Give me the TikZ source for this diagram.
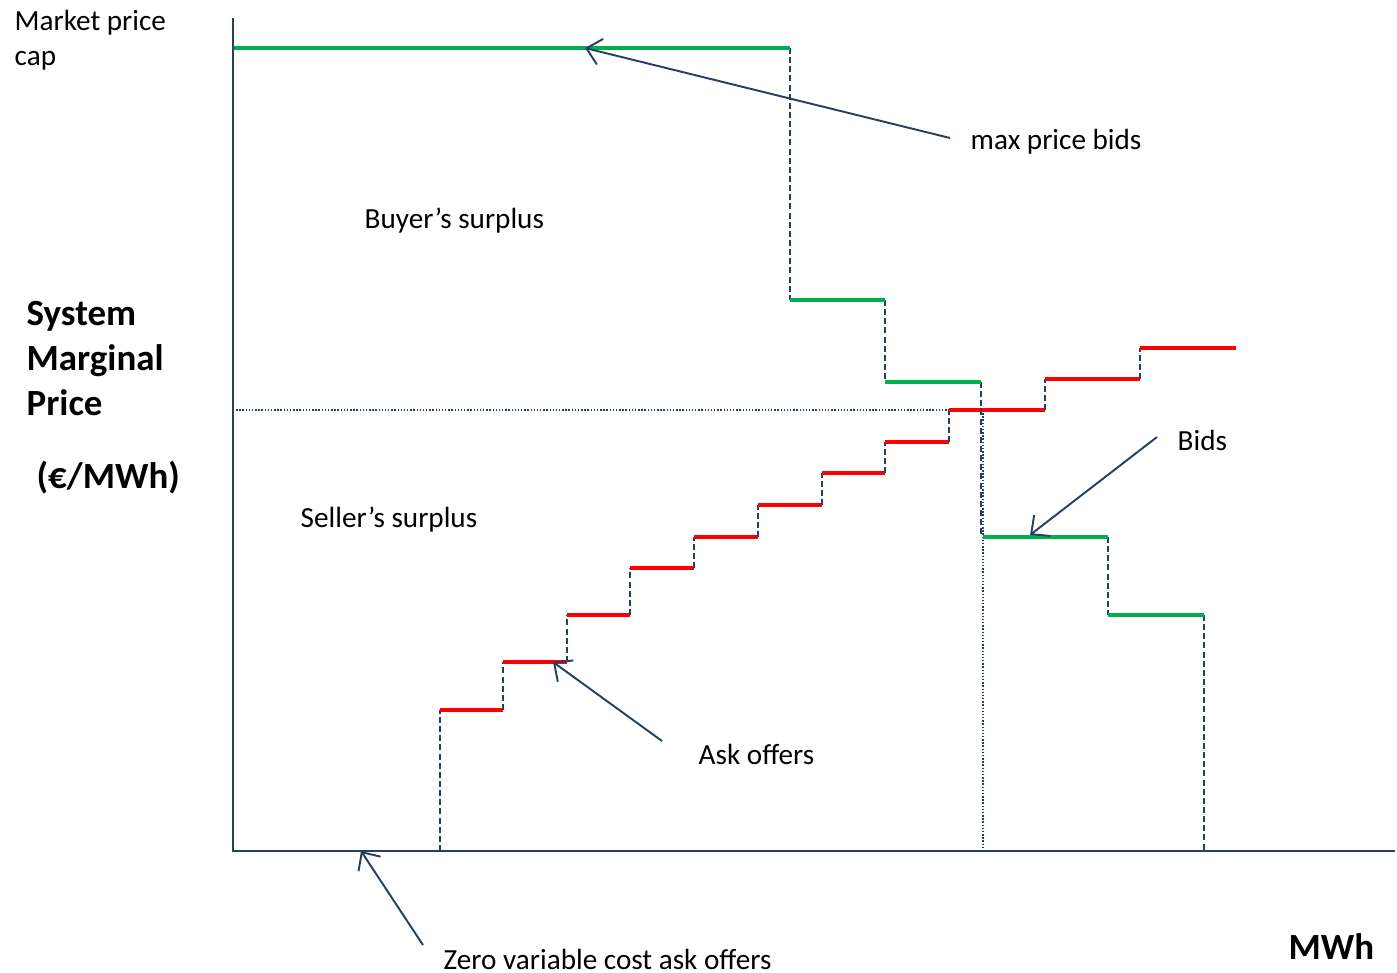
\documentclass[tikz,border=0pt]{standalone}
\usepackage{fontspec}
\setmainfont{Carlito}
\usepackage{xcolor}
\usepackage{tikz}
\usetikzlibrary{positioning,arrows.meta}
\definecolor{navy}{RGB}{38,64,97}
\definecolor{bidgreen}{RGB}{0,176,80}
\definecolor{askred}{RGB}{255,0,0}
\tikzstyle{lbl}=[inner sep=0pt, anchor=west, font=\fontsize{8.3}{9.7}\selectfont]
\tikzstyle{axislbl}=[inner sep=0pt, anchor=west, font=\fontsize{10.5}{12.8}\selectfont\bfseries]
\tikzstyle{ask}=[askred, line width=1.25pt]
\tikzstyle{bid}=[bidgreen, line width=1.25pt]
\tikzstyle{riser}=[navy, line width=0.55pt, dash pattern=on 1.7pt off 0.9pt]
\tikzstyle{guide}=[navy, line width=0.5pt, dash pattern=on 0.4pt off 0.5pt]
\tikzstyle{pointer}=[navy, line width=0.55pt, -{Straight Barb[length=4pt,width=7.5pt]}]

\begin{document}
\begin{tikzpicture}[x=0.01cm, y=-0.01cm]
				\useasboundingbox (0,0) rectangle (1397,973);
				
				% dotted price lines
				\draw[guide] (233,410) -- (949,410);
				\draw[guide] (983,410) -- (983,851);
				
				% ask offers
				\foreach \xa/\xb/\ya/\yb in {440/503/851/710, 503/567/710/662, 567/630/662/615, 630/694/615/568, 694/758/568/537, 758/822/537/505, 822/885/505/473, 885/949/473/442, 949/1045/442/410, 1045/1140/410/379, 1140/1236/379/348}
				{
					\draw[riser] (\xa,\ya) -- (\xa,\yb);
					\draw[ask] (\xa,\yb) -- (\xb,\yb);
				}
				
				% bids
				\draw[riser] (790,48) -- (790,300);
				\draw[riser] (885,300) -- (885,382);
				\draw[riser] (981,382) -- (981,537);
				\draw[riser] (1108,537) -- (1108,615);
				\draw[riser] (1204,615) -- (1204,851);
				\draw[bid] (233,48) -- (790,48);
				\draw[bid] (790,300) -- (885,300);
				\draw[bid] (885,382) -- (981,382);
				\draw[bid] (983,537) -- (1108,537);
				\draw[bid] (1108,615) -- (1204,615);
				
				% axes
				\draw[navy, line width=0.6pt] (233,18) -- (233,851) -- (1395,851);
				
				% labels
				\node[lbl, anchor=north west, align=left] (cap) at (14,10) {Market price\\cap};
				\node[axislbl, anchor=north west, align=left] (smp) at (26,301) {System\\Marginal\\Price};
				\node[axislbl] (unit) at (36,478) {(€/MWh)};
				\node[axislbl] (mwh) at (1288,947) {MWh};
				\node[lbl] (buyer) at (364,221) {Buyer’s surplus};
				\node[lbl] (seller) at (300,520) {Seller’s surplus};
				\node[lbl] (maxbids) at (970,142) {max price bids};
				\node[lbl] (bids) at (1177,440) {Bids};
				\node[lbl] (askoff) at (698,754) {Ask offers};
				\node[lbl] (zero) at (443,959) {Zero variable cost ask offers};
				
				\coordinate (capbid) at (585,48);
				\coordinate (lowbid) at (1030,535);
				\coordinate (secask) at (553,662);
				\coordinate (origin) at (361,851);
				
				\draw[pointer] ([shift={(-20,-4)}]maxbids.west) -- (capbid);
				\draw[pointer] ([shift={(-20,-3)}]bids.west) -- (lowbid);
				\draw[pointer] ([shift={(-36,-13)}]askoff.west) -- (secask);
				\draw[pointer] ([shift={(-20,-14)}]zero.west) -- (origin);
			\end{tikzpicture}
\end{document}
